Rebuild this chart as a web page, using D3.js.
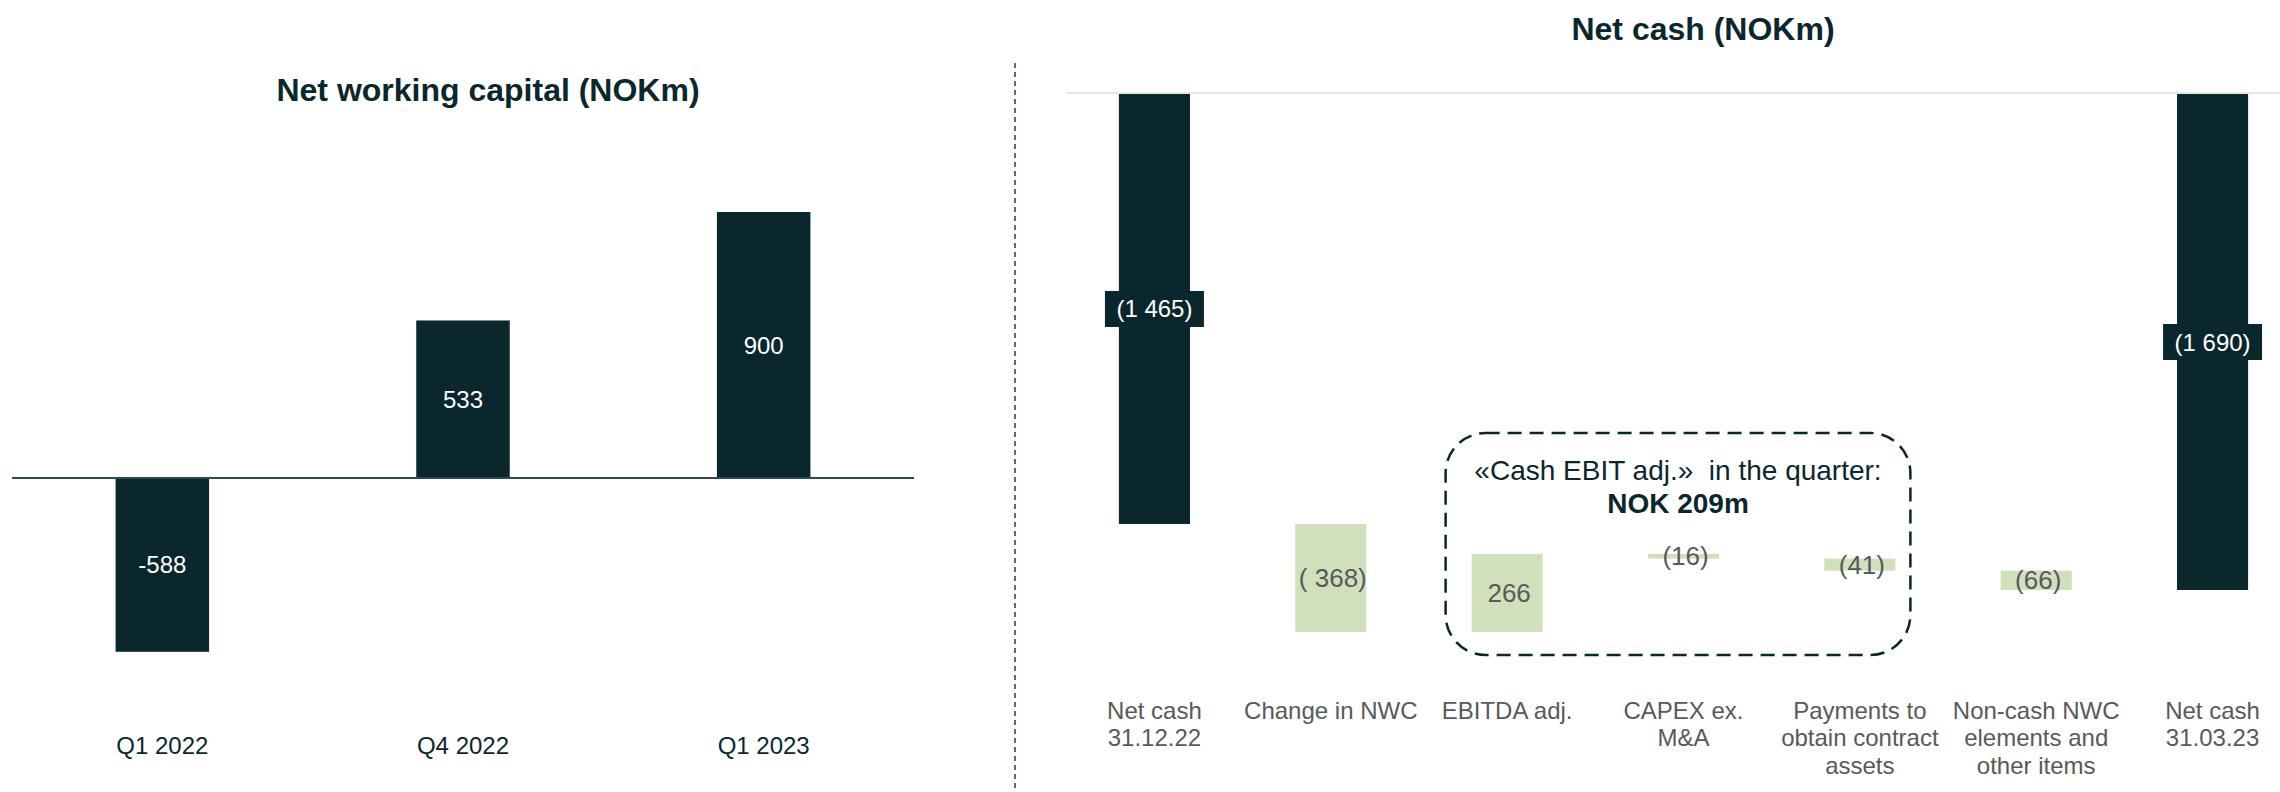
<!DOCTYPE html>
<html>
<head>
<meta charset="utf-8">
<script src="https://cdn.jsdelivr.net/npm/d3@7"></script>
<style>
  body { margin: 0; background: #fff; }
  svg { display: block; font-family: "Liberation Sans", Arial, sans-serif; }
</style>
</head>
<body>
<svg id="svg" width="2280" height="792"></svg>
<script>
const nwcCats = ["Q1 2022", "Q4 2022", "Q1 2023"];
const nwcValues = [-588, 533, 900];

const cashCats = ["Net cash 31.12.22", "Change in NWC", "EBITDA adj.", "CAPEX ex. M&A",
  "Payments to obtain contract assets", "Non-cash NWC elements and other items", "Net cash 31.03.23"];
const cashCatLines = [["Net cash", "31.12.22"], ["Change in NWC"], ["EBITDA adj."], ["CAPEX ex.", "M&A"],
  ["Payments to", "obtain contract", "assets"], ["Non-cash NWC", "elements and", "other items"], ["Net cash", "31.03.23"]];
const cashValues = [-1465, -368, 266, -16, -41, -66, -1690];
const cashTypes = ["total", "delta", "delta", "delta", "delta", "delta", "total"];
const cashLabels = ["(1 465)", "( 368)", "266", "(16)", "(41)", "(66)", "(1 690)"];

const DARK = "#0a272d", GREEN = "#d0dfbc", GREY = "#595959";

const svg = d3.select("#svg");

// ---- left: net working capital
const x1 = d3.scaleBand().domain(nwcCats).range([12, 914]).paddingInner(0.689).paddingOuter(0.3445),
    y1 = d3.scaleLinear().domain([0, 900]).range([478, 212]);

svg.append("text").attr("x", 488).attr("y", 90).attr("text-anchor", "middle").attr("dominant-baseline", "central")
  .style("font-size", "32px").style("font-weight", "bold").style("fill", DARK).text("Net working capital (NOKm)");

svg.selectAll(".nwc").data(nwcValues).join("rect").attr("class", "nwc")
  .attr("x", (d, i) => x1(nwcCats[i])).attr("width", x1.bandwidth())
  .attr("y", d => y1(Math.max(0, d))).attr("height", d => Math.abs(y1(d) - y1(0)))
  .style("fill", DARK);

svg.append("line").attr("x1", 12).attr("x2", 914).attr("y1", y1(0)).attr("y2", y1(0))
  .style("stroke", "#2c4a50").style("stroke-width", 2);

svg.selectAll(".nwcl").data(nwcValues).join("text").attr("class", "nwcl")
  .attr("x", (d, i) => x1(nwcCats[i]) + x1.bandwidth() / 2).attr("y", d => (y1(d) + y1(0)) / 2)
  .attr("text-anchor", "middle").attr("dominant-baseline", "central")
  .style("font-size", "24px").style("fill", "#fff").text(d => d);

svg.selectAll(".nwcc").data(nwcCats).join("text").attr("class", "nwcc")
  .attr("x", d => x1(d) + x1.bandwidth() / 2).attr("y", 745)
  .attr("text-anchor", "middle").attr("dominant-baseline", "central")
  .style("font-size", "24px").style("fill", DARK).text(d => d);

// divider
svg.append("line").attr("x1", 1015).attr("x2", 1015).attr("y1", 63).attr("y2", 792)
  .style("stroke", "#5a6e72").style("stroke-width", 2).attr("stroke-dasharray", "5 4");

// ---- right: net cash waterfall
const x2 = d3.scaleBand().domain(cashCats).range([1066, 2301]).paddingInner(0.597).paddingOuter(0.3),
    y2 = d3.scaleLinear().domain([0, -1690]).range([94, 590]);

svg.append("text").attr("x", 1703).attr("y", 29).attr("text-anchor", "middle").attr("dominant-baseline", "central")
  .style("font-size", "32px").style("font-weight", "bold").style("fill", DARK).text("Net cash (NOKm)");

svg.append("line").attr("x1", 1066).attr("x2", 2280).attr("y1", y2(0) - 1).attr("y2", y2(0) - 1)
  .style("stroke", "#e6e6e6").style("stroke-width", 2);

let run = 0;
const steps = cashValues.map((v, i) => {
  let a, b;
  if (cashTypes[i] === "total") { a = 0; b = v; run = v; }
  else { a = run; b = run + v; run = b; }
  return { cat: cashCats[i], a, b, type: cashTypes[i], label: cashLabels[i] };
});

svg.selectAll(".wf").data(steps).join("rect").attr("class", "wf")
  .attr("x", d => x2(d.cat)).attr("width", x2.bandwidth())
  .attr("y", d => Math.min(y2(d.a), y2(d.b))).attr("height", d => Math.abs(y2(d.a) - y2(d.b)))
  .style("fill", d => d.type === "total" ? DARK : GREEN);

// dashed annotation box
const bx0 = x2(cashCats[2]) - 26, bx1 = x2(cashCats[4]) + x2.bandwidth() + 15;
svg.append("rect").attr("x", bx0).attr("y", 433).attr("width", bx1 - bx0).attr("height", 222)
  .attr("rx", 40).attr("ry", 40).style("fill", "none").style("stroke", DARK)
  .style("stroke-width", 2.5).attr("stroke-dasharray", "14 8");
svg.append("text").attr("x", (bx0 + bx1) / 2).attr("y", 470).attr("text-anchor", "middle").attr("dominant-baseline", "central")
  .style("font-size", "28px").style("fill", DARK).style("white-space", "pre").text("«Cash EBIT adj.»  in the quarter:");
svg.append("text").attr("x", (bx0 + bx1) / 2).attr("y", 503).attr("text-anchor", "middle").attr("dominant-baseline", "central")
  .style("font-size", "28px").style("font-weight", "bold").style("fill", DARK).text("NOK 209m");

const totals = steps.filter(d => d.type === "total"),
    deltas = steps.filter(d => d.type === "delta");

svg.selectAll(".tbox").data(totals).join("rect").attr("class", "tbox")
  .attr("x", d => x2(d.cat) + x2.bandwidth() / 2 - 49.5).attr("width", 99)
  .attr("y", d => (y2(d.a) + y2(d.b)) / 2 - 18).attr("height", 36).style("fill", DARK);

svg.selectAll(".tlab").data(totals).join("text").attr("class", "tlab")
  .attr("x", d => x2(d.cat) + x2.bandwidth() / 2).attr("y", d => (y2(d.a) + y2(d.b)) / 2)
  .attr("text-anchor", "middle").attr("dominant-baseline", "central")
  .style("font-size", "24px").style("fill", "#fff").style("white-space", "pre").text(d => d.label);

svg.selectAll(".dlab").data(deltas).join("text").attr("class", "dlab")
  .attr("x", d => x2(d.cat) + x2.bandwidth() / 2 + 2).attr("y", d => (y2(d.a) + y2(d.b)) / 2)
  .attr("text-anchor", "middle").attr("dominant-baseline", "central")
  .style("font-size", "26px").style("fill", GREY).style("white-space", "pre").text(d => d.label);

const cl = svg.selectAll(".ccat").data(cashCats).join("text").attr("class", "ccat")
  .attr("text-anchor", "middle").style("font-size", "24px").style("fill", GREY);
cl.each(function (d, i) {
  const cx = x2(d) + x2.bandwidth() / 2;
  d3.select(this).selectAll("tspan").data(cashCatLines[i]).join("tspan")
    .attr("x", cx).attr("y", (t, j) => 710 + j * 27.5).attr("dominant-baseline", "central").text(t => t);
});
</script>
</body>
</html>
